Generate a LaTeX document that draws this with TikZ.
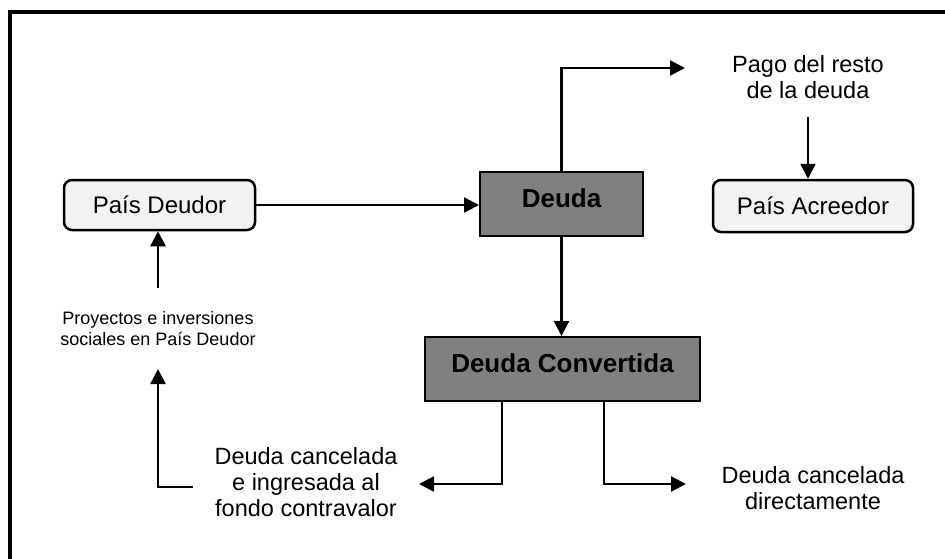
\documentclass[tikz,border=0pt]{standalone}
\usepackage{fontspec}
\setmainfont{Liberation Sans}
\usetikzlibrary{arrows.meta}
\definecolor{lightbox}{HTML}{F2F2F2}
\definecolor{darkbox}{HTML}{808080}
\begin{document}
\begin{tikzpicture}[x=1pt,y=-1pt,
  arr/.style={line width=2.3pt,-{Triangle[length=15pt,width=15pt]}},
  lightnode/.style={draw,line width=2.5pt,rounded corners=8pt,fill=lightbox,
    font=\fontsize{24}{26}\selectfont,inner sep=0pt},
  darknode/.style={draw,line width=2pt,fill=darkbox,inner sep=0pt,
    font=\fontsize{26}{30}\bfseries\selectfont,text height=19pt,text depth=12pt},
  txt/.style={align=center,inner sep=0pt,font=\fontsize{23.5}{26}\selectfont},
  smalltxt/.style={align=center,inner sep=0pt,font=\fontsize{18}{21}\selectfont}]
\useasboundingbox (0,0) rectangle (945,558);
\draw[line width=4pt] (10,12) rectangle (980,600);
% nodes
\node[lightnode,minimum width=191pt,minimum height=50pt] (deudor) at (159.5,205) {País Deudor};
\node[lightnode,minimum width=200pt,minimum height=52pt] (acreedor) at (813,206) {País Acreedor};
\node[darknode,minimum width=163pt,minimum height=64pt] (deuda) at (561.5,204) {Deuda};
\node[darknode,minimum width=275pt,minimum height=64pt] (conv) at (562.5,369) {Deuda Convertida};
\node[txt] (pago) at (808,77) {Pago del resto\\de la deuda};
\node[smalltxt] (proj) at (158,329) {Proyectos e inversiones\\sociales en País Deudor};
\node[txt] (canc1) at (306,482) {Deuda cancelada\\e ingresada al\\fondo contravalor};
\node[txt] (canc2) at (813,488) {Deuda cancelada\\directamente};
% free ends
\coordinate (pagotip) at (685,68);
\coordinate (pagoout) at (808,117);
\coordinate (lefttip) at (419,484);
\coordinate (righttip) at (686,484);
\coordinate (projtop) at (158,288);
\coordinate (retstart) at (193,487);
\coordinate (rettip) at (158,369);
% connectors
\draw[arr] (deudor.east) -- (deudor.east -| deuda.west);
\draw[arr] (deuda.north) |- (pagotip);
\draw[arr] (deuda.south) -- (deuda.south |- conv.north);
\draw[arr] ([xshift=-60.5pt]conv.south) |- (lefttip);
\draw[arr] ([xshift=41.5pt]conv.south) |- (righttip);
\draw[arr] (pagoout) -- (pagoout |- acreedor.north);
\draw[arr] (projtop) -- (projtop |- deudor.south);
\draw[arr] (retstart) -| (rettip);
\end{tikzpicture}
\end{document}
